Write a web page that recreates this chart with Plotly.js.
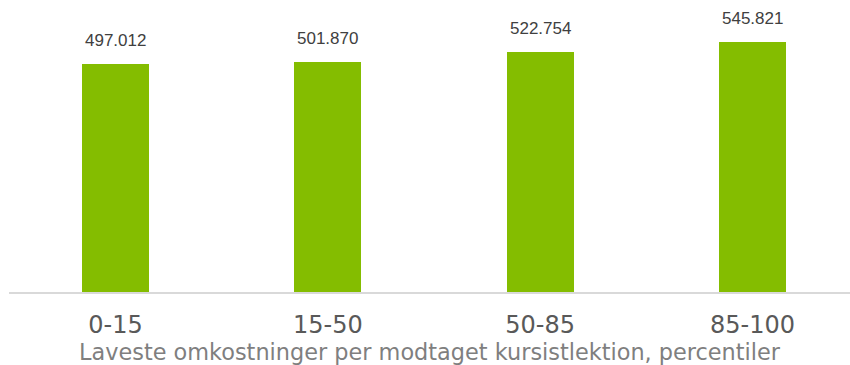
<!DOCTYPE html>
<html>
<head>
<meta charset="utf-8">
<script src="https://cdn.plot.ly/plotly-3.0.1.min.js"></script>
<style>html,body{margin:0;padding:0;background:#fff;}#chart{width:850px;height:365px;}</style>
</head>
<body>
<div id="chart"></div>
<script>
const categories = ["0-15", "15-50", "50-85", "85-100"];
const values = [497.012, 501.870, 522.754, 545.821];
const labels = ["497.012", "501.870", "522.754", "545.821"];
const xTitle = "Laveste omkostninger per modtaget kursistlektion, percentiler";

const trace = {
  type: "bar",
  x: categories.map((c, i) => i),
  y: values,
  width: 0.316,
  marker: {color: "#84BD00", line: {width: 0}},
  hoverinfo: "skip"
};

const annotations = values.map((v, i) => ({
  x: i, y: v, text: labels[i], showarrow: false,
  xanchor: "center", yanchor: "bottom", yshift: 12,
  font: {family: "Liberation Sans, Arial", size: 17, color: "#404040"}
}));

const layout = {
  width: 850, height: 365,
  margin: {l: 9, r: 0, t: 10, b: 73},
  paper_bgcolor: "#fff", plot_bgcolor: "#fff",
  showlegend: false,
  bargap: 0,
  xaxis: {
    range: [-0.5016, 3.459],
    tickmode: "array", tickvals: [0, 1, 2, 3], ticktext: categories,
    showgrid: false, zeroline: false,
    showline: true, linecolor: "#d9d9d9", linewidth: 2,
    ticks: "", ticklabelstandoff: 10,
    tickfont: {family: "DejaVu Sans, Verdana", size: 24, color: "#595959"},
    title: {text: xTitle, standoff: 13, font: {family: "DejaVu Sans, Verdana", size: 22.4, color: "#7f7f7f"}}
  },
  yaxis: {range: [0, 615], visible: false, showgrid: false, zeroline: false},
  annotations: annotations
};

Plotly.newPlot("chart", [trace], layout, {displayModeBar: false, staticPlot: true});
</script>
</body>
</html>
